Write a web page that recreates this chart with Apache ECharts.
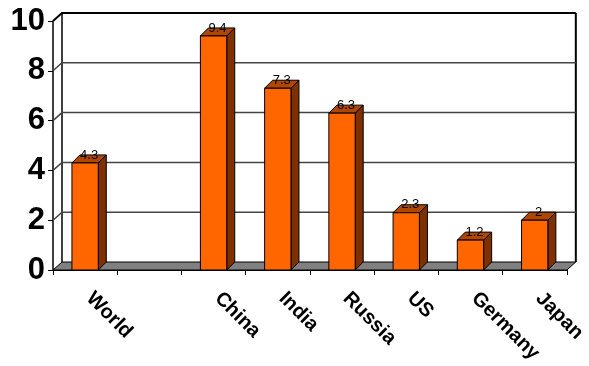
<!DOCTYPE html>
<html>
<head>
<meta charset="utf-8">
<script src="https://cdn.jsdelivr.net/npm/echarts@6/dist/echarts.min.js"></script>
<style>
  html, body { margin: 0; background: #fff; }
  #chart { width: 589px; height: 366px; }
</style>
</head>
<body>
<div id="chart"></div>
<script>
const categories = ['World', '', 'China', 'India', 'Russia', 'US', 'Germany', 'Japan']
const values = [4.3, null, 9.4, 7.3, 6.3, 2.3, 1.2, 2]
const yTicks = [0, 2, 4, 6, 8, 10]

// 3d look: depth offset of the walls and of each bar
const DX = 9, DY = -8
const BX = 8, BY = -8

const chart = echarts.init(document.getElementById('chart'))

function renderFrame(params, api) {
  const cs = params.coordSys
  const t = api.value(1)
  const y = api.coord([0, t])[1]
  const x0 = cs.x, x1 = cs.x + cs.width
  if (t === 0) {
    const yTop = api.coord([0, yTicks[yTicks.length - 1]])[1]
    return {
      type: 'group',
      children: [
        { type: 'polygon', shape: { points: [[x0, y], [x1, y], [x1 + DX, y + DY], [x0 + DX, y + DY]] },
          style: { fill: '#808080', stroke: '#000', lineWidth: 1 } },
        { type: 'line', shape: { x1: x0 + DX, y1: y + DY, x2: x0 + DX, y2: yTop + DY },
          style: { stroke: '#000', lineWidth: 1.5 } },
        { type: 'line', shape: { x1: x1 + DX, y1: y + DY, x2: x1 + DX, y2: yTop + DY },
          style: { stroke: '#000', lineWidth: 2 } }
      ]
    }
  }
  const isTop = t === yTicks[yTicks.length - 1]
  return {
    type: 'polyline',
    shape: { points: [[x0, y], [x0 + DX, y + DY], [x1 + DX, y + DY]] },
    style: { fill: null, stroke: isTop ? '#000' : '#444', lineWidth: isTop ? 2 : 1.5 }
  }
}

function renderBar(params, api) {
  const v = api.value(1)
  const top = api.coord([api.value(0), v])
  const base = api.coord([api.value(0), 0])
  const w = api.size([1, 0])[0] * 0.41
  const x0 = top[0] - w / 2, x1 = top[0] + w / 2
  const yt = top[1], yb = base[1]
  return {
    type: 'group',
    children: [
      { type: 'polygon', shape: { points: [[x1, yt], [x1 + BX, yt + BY], [x1 + BX, yb + BY], [x1, yb]] },
        style: { fill: '#7f3000', stroke: '#000', lineWidth: 1 } },
      { type: 'polygon', shape: { points: [[x0, yt], [x1, yt], [x1 + BX, yt + BY], [x0 + BX, yt + BY]] },
        style: { fill: '#b04600', stroke: '#000', lineWidth: 1 } },
      { type: 'rect', shape: { x: x0, y: yt, width: w, height: yb - yt },
        style: { fill: '#ff6600', stroke: '#000', lineWidth: 1 } },
      { type: 'text', x: top[0] + BX / 2, y: yt - 8,
        style: { text: String(v), fill: '#000', align: 'center', verticalAlign: 'middle',
                 font: "13px 'Liberation Sans Narrow', 'Liberation Sans', Arial, sans-serif" } }
    ]
  }
}

const option = {
  backgroundColor: '#fff',
  animation: false,
  grid: { left: 53, right: 22, top: 21, bottom: 96, containLabel: false },
  xAxis: {
    type: 'category',
    data: categories,
    axisLine: { show: true, lineStyle: { color: '#000', width: 1 } },
    axisTick: { show: true, length: 5, lineStyle: { color: '#000' } },
    axisLabel: {
      rotate: -45, margin: 21, interval: 0,
      padding: [0, 0, 0, 6],
      fontFamily: "'Liberation Sans', Arial, sans-serif",
      fontWeight: 'bold', fontSize: 20, color: '#000'
    }
  },
  yAxis: {
    type: 'value', min: 0, max: 10, interval: 2,
    axisLine: { show: true, lineStyle: { color: '#000', width: 1.5 } },
    axisTick: { show: true, length: 5, lineStyle: { color: '#000' } },
    splitLine: { show: false },
    axisLabel: {
      margin: 8,
      fontFamily: "'Liberation Sans Narrow', 'Liberation Sans', Arial, sans-serif",
      fontWeight: 'bold', fontSize: 31, color: '#000'
    }
  },
  series: [
    {
      type: 'custom',
      z: 1,
      silent: true,
      renderItem: renderFrame,
      data: yTicks.map(t => [0, t])
    },
    {
      type: 'custom',
      z: 3,
      renderItem: renderBar,
      data: values.map((v, i) => [i, v]).filter(d => d[1] != null)
    }
  ]
}

chart.setOption(option)
</script>
</body>
</html>
